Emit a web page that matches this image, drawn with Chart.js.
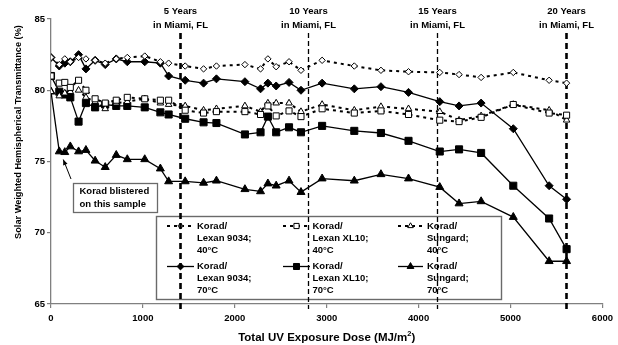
<!DOCTYPE html>
<html><head><meta charset="utf-8">
<script src="https://cdn.jsdelivr.net/npm/chart.js@4/dist/chart.umd.min.js"></script>
<style>html,body{margin:0;padding:0;background:#fff}#wrap{width:618px;height:345px;position:relative}</style>
</head><body><div id="wrap"><canvas id="c" width="618" height="345"></canvas></div>
<script>
// ---- data ----
const doses = [0, 90, 150, 210, 300, 380, 480, 590, 710, 830, 1020, 1190, 1280, 1460, 1660, 1800, 2110, 2280, 2360, 2450, 2590, 2720, 2950, 3300, 3590, 3890, 4230, 4440, 4680, 5030, 5420, 5610];
const lexan9034_40 = [82.3, 81.8, 82.2, 82.0, 82.3, 82.2, 82.1, 81.9, 82.2, 82.3, 82.4, 82.0, 81.9, 81.7, 81.5, 81.7, 81.8, 81.5, 82.2, 81.65, 82.0, 81.4, 82.1, 81.7, 81.4, 81.3, 81.25, 81.1, 80.9, 81.25, 80.7, 80.5];
const lexanXL10_40 = [81.0, 80.5, 80.55, 80.2, 80.7, 80.0, 79.4, 79.1, 79.3, 79.5, 79.4, 79.3, 79.3, 78.6, 78.4, 78.5, 78.5, 78.3, 78.9, 78.2, 78.55, 78.15, 78.7, 78.4, 78.55, 78.3, 77.9, 77.8, 78.1, 79.0, 78.4, 78.25];
const sungard_40 = [79.9, 79.6, 79.8, 79.9, 80.0, 79.5, 79.2, 78.7, 79.1, 79.2, 79.4, 79.1, 79.0, 78.9, 78.6, 78.7, 78.9, 78.5, 79.1, 79.1, 79.1, 78.5, 79.0, 78.6, 78.85, 78.7, 78.5, 77.9, 78.2, 79.0, 78.6, 77.9];
const lexan9034_70 = [82.3, 81.7, 81.9, 82.0, 82.5, 81.5, 82.1, 81.8, 82.2, 82.0, 82.0, 81.9, 81.0, 80.7, 80.5, 80.8, 80.6, 80.1, 80.5, 80.3, 80.55, 80.0, 80.5, 80.1, 80.25, 79.85, 79.2, 78.9, 79.1, 77.3, 73.3, 72.35];
const lexanXL10_70 = [81.0, 79.9, 79.7, 79.5, 77.8, 79.1, 78.8, 79.0, 78.9, 78.9, 78.8, 78.45, 78.3, 78.0, 77.75, 77.7, 76.9, 77.05, 78.15, 77.05, 77.4, 77.05, 77.5, 77.15, 77.0, 76.45, 75.7, 75.85, 75.6, 73.3, 71.0, 68.85];
const sungard_70 = [79.9, 75.7, 75.65, 76.05, 75.7, 75.8, 75.05, 74.6, 75.45, 75.15, 75.15, 74.5, 73.6, 73.6, 73.5, 73.65, 73.05, 72.9, 73.45, 73.3, 73.65, 72.85, 73.8, 73.65, 74.1, 73.8, 73.2, 72.05, 72.2, 71.1, 68.0, 68.0];
const seriesNames = [
  ["Korad/", "Lexan 9034;", "40°C"],
  ["Korad/", "Lexan XL10;", "40°C"],
  ["Korad/", "Sungard;", "40°C"],
  ["Korad/", "Lexan 9034;", "70°C"],
  ["Korad/", "Lexan XL10;", "70°C"],
  ["Korad/", "Sungard;", "70°C"]
];
const xTicks = [0, 1000, 2000, 3000, 4000, 5000, 6000];
const yTicks = [65, 70, 75, 80, 85];
const milestoneDoses = [1400, 2800, 4200, 5600];
const milestoneLabels = [["5 Years", "in Miami, FL"], ["10 Years", "in Miami, FL"], ["15 Years", "in Miami, FL"], ["20 Years", "in Miami, FL"]];
const blisterNote = ["Korad blistered", "on this sample"];
const xTitle = "Total UV Exposure Dose (MJ/m";
const xTitleSup = "2";
const yTitle = "Solar Weighted Hemispherical Transmittance (%)";

// ---- build ----
const FONT = "'Liberation Sans', Arial, Helvetica, sans-serif";
const pts = arr => arr.map((v, i) => ({x: doses[i], y: v}));
const seriesValues = [lexan9034_40, lexanXL10_40, sungard_40, lexan9034_70, lexanXL10_70, sungard_70];
const styles = [
  {pointStyle: 'rectRot', pointRadius: 3.2, fill: '#fff', dash: [3, 4], lw: 2},
  {pointStyle: 'rect', pointRadius: 4.3, fill: '#fff', dash: [3, 4], lw: 2},
  {pointStyle: 'triangle', pointRadius: 3.8, fill: '#fff', dash: [3, 4], lw: 2},
  {pointStyle: 'rectRot', pointRadius: 4, fill: '#000', dash: [], lw: 1.3},
  {pointStyle: 'rect', pointRadius: 5, fill: '#000', dash: [], lw: 1.3},
  {pointStyle: 'triangle', pointRadius: 4.6, fill: '#000', dash: [], lw: 1.3}
];
const datasets = seriesValues.map((vals, i) => ({
  label: seriesNames[i].join(' '),
  data: pts(vals),
  borderColor: '#000',
  borderWidth: styles[i].lw,
  borderDash: styles[i].dash,
  pointStyle: styles[i].pointStyle,
  pointRadius: styles[i].pointRadius,
  pointBackgroundColor: styles[i].fill,
  pointBorderColor: '#000',
  pointBorderWidth: 1,
  tension: 0,
  fill: false,
  order: i < 3 ? 0 : 1
}));

function marker(ctx, style, r, x, y, fill) {
  ctx.save();
  ctx.setLineDash([]);
  ctx.fillStyle = fill; ctx.strokeStyle = '#000'; ctx.lineWidth = 1;
  if (Chart.helpers && Chart.helpers.drawPoint) {
    Chart.helpers.drawPoint(ctx, {pointStyle: style, radius: r, borderWidth: 1, rotation: 0}, x, y);
  }
  ctx.restore();
}

const overlay = {
  id: 'overlay',
  beforeDatasetsDraw(chart) {
    const ctx = chart.ctx, xs = chart.scales.x, a = chart.chartArea;
    ctx.save();
    // legend box
    const L = 156.5, T = 216.5, R = 501.5, B = 299.5;
    ctx.fillStyle = '#fff';
    ctx.fillRect(L, T, R - L, B - T);
    ctx.strokeStyle = '#6a6a6a'; ctx.lineWidth = 1.4;
    ctx.strokeRect(L, T, R - L, B - T);
    const colLine = [[167, 194], [283, 310], [398, 423]];
    const colText = [197, 312.5, 427];
    const rowY = [226, 266.5];
    ctx.font = "bold 9.5px " + FONT;
    ctx.textBaseline = 'middle'; ctx.textAlign = 'left';
    chart.data.datasets.forEach((ds, i) => {
      const c = i % 3, r = Math.floor(i / 3);
      const y0 = rowY[r];
      ctx.save();
      ctx.strokeStyle = '#000'; ctx.lineWidth = ds.borderWidth;
      ctx.setLineDash(ds.borderDash || []);
      ctx.beginPath(); ctx.moveTo(colLine[c][0], y0); ctx.lineTo(colLine[c][1], y0); ctx.stroke();
      ctx.restore();
      marker(ctx, ds.pointStyle, ds.pointRadius * 0.85, (colLine[c][0] + colLine[c][1]) / 2, y0, ds.pointBackgroundColor);
      ctx.fillStyle = '#000';
      seriesNames[i].forEach((t, k) => ctx.fillText(t, colText[c], y0 + k * 12));
    });
    // milestone lines
    milestoneDoses.forEach((d, i) => {
      const px = Math.round(xs.getPixelForValue(d)) + 0.5;
      const thick = (i === 0 || i === 3);
      ctx.save();
      ctx.strokeStyle = '#000';
      ctx.lineWidth = thick ? 2.6 : 1.3;
      ctx.setLineDash(thick ? [6, 4] : [5, 3]);
      ctx.beginPath(); ctx.moveTo(px, 33); ctx.lineTo(px, a.bottom + 5); ctx.stroke();
      ctx.restore();
      ctx.fillStyle = '#000';
      ctx.textAlign = 'center';
      ctx.fillText(milestoneLabels[i][0], px, 11);
      ctx.fillText(milestoneLabels[i][1], px, 25);
    });
    // blister note
    ctx.fillStyle = '#fff';
    ctx.fillRect(73.5, 183.5, 84, 29);
    ctx.strokeStyle = '#6a6a6a'; ctx.lineWidth = 1.3; ctx.setLineDash([]);
    ctx.strokeRect(73.5, 183.5, 84, 29);
    ctx.fillStyle = '#000'; ctx.textAlign = 'left';
    ctx.fillText(blisterNote[0], 79.5, 191);
    ctx.fillText(blisterNote[1], 79.5, 204);
    // arrow to the blistered sample point
    const ys = chart.scales.y;
    const tx = xs.getPixelForValue(doses[1]) + 4, ty = ys.getPixelForValue(sungard_70[1]) + 8;
    const sx = 71, sy = 179;
    ctx.strokeStyle = '#000'; ctx.lineWidth = 1;
    ctx.beginPath(); ctx.moveTo(sx, sy); ctx.lineTo(tx, ty); ctx.stroke();
    const ang = Math.atan2(ty - sy, tx - sx);
    ctx.beginPath();
    ctx.moveTo(tx, ty);
    ctx.lineTo(tx - 6 * Math.cos(ang - 0.4), ty - 6 * Math.sin(ang - 0.4));
    ctx.lineTo(tx - 6 * Math.cos(ang + 0.4), ty - 6 * Math.sin(ang + 0.4));
    ctx.closePath(); ctx.fillStyle = '#000'; ctx.fill();
    ctx.restore();
  },
  afterDraw(chart) {
    const ctx = chart.ctx, a = chart.chartArea;
    ctx.save();
    ctx.fillStyle = '#000';
    ctx.textBaseline = 'middle';
    // x title with superscript
    ctx.font = "bold 11.5px " + FONT;
    const w1 = ctx.measureText(xTitle).width;
    ctx.font = "bold 7.5px " + FONT;
    const w2 = ctx.measureText(xTitleSup).width;
    ctx.font = "bold 11.5px " + FONT;
    const w3 = ctx.measureText(")").width;
    const cx = (a.left + a.right) / 2;
    let x0 = cx - (w1 + w2 + w3) / 2;
    ctx.textAlign = 'left';
    ctx.fillText(xTitle, x0, 338);
    ctx.font = "bold 7.5px " + FONT;
    ctx.fillText(xTitleSup, x0 + w1, 334);
    ctx.font = "bold 11.5px " + FONT;
    ctx.fillText(")", x0 + w1 + w2, 338);
    // y title
    ctx.translate(18, 132);
    ctx.rotate(-Math.PI / 2);
    ctx.textAlign = 'center';
    ctx.font = "bold 9.2px " + FONT;
    ctx.fillText(yTitle, 0, 0);
    ctx.restore();
  }
};

new Chart(document.getElementById('c'), {
  type: 'line',
  data: {datasets},
  options: {
    responsive: false,
    animation: false,
    devicePixelRatio: 1,
    layout: {padding: {top: 19, right: 14, left: 0, bottom: 0}},
    plugins: {legend: {display: false}, tooltip: {enabled: false}},
    scales: {
      x: {
        type: 'linear', min: 0, max: 6000,
        afterBuildTicks: s => { s.ticks = xTicks.map(v => ({value: v})); },
        afterFit: s => { s.height = 41; },
        ticks: {color: '#000', font: {family: FONT, size: 9.5, weight: 'bold'}, padding: 5, maxRotation: 0, callback: v => String(v)},
        grid: {drawOnChartArea: false, drawTicks: true, tickLength: 4, color: '#808080', lineWidth: 1.2},
        border: {display: true, color: '#808080', width: 1.3}
      },
      y: {
        min: 65, max: 85,
        afterBuildTicks: s => { s.ticks = yTicks.map(v => ({value: v})); },
        afterFit: s => { s.width = 51; },
        ticks: {color: '#000', font: {family: FONT, size: 9.5, weight: 'bold'}, padding: 2, callback: v => String(v)},
        grid: {drawOnChartArea: false, drawTicks: true, tickLength: 4, color: '#808080', lineWidth: 1.2},
        border: {display: true, color: '#808080', width: 1.3}
      }
    }
  },
  plugins: [overlay]
});
</script>
</body></html>
